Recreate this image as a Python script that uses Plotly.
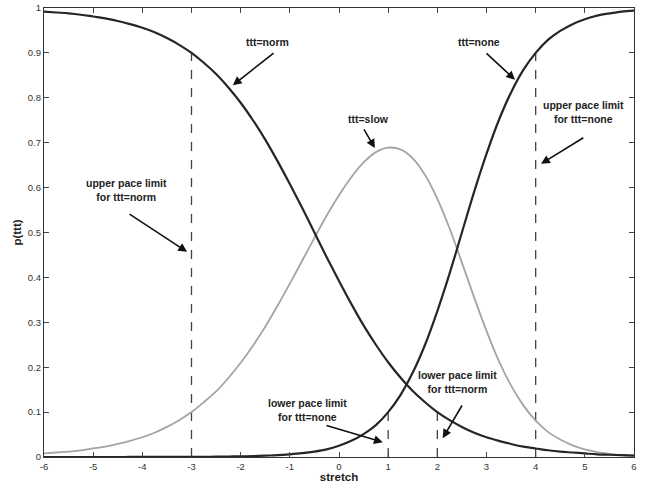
import plotly.graph_objects as go

# values at steps of 0.25 along the stretch axis
stretch = [-6, -5.75, -5.5, -5.25, -5, -4.75, -4.5, -4.25, -4, -3.75, -3.5, -3.25,
           -3, -2.75, -2.5, -2.25, -2, -1.75, -1.5, -1.25, -1, -0.75, -0.5, -0.25,
           0, 0.25, 0.5, 0.75, 1, 1.25, 1.5, 1.75, 2, 2.25, 2.5, 2.75,
           3, 3.25, 3.5, 3.75, 4, 4.25, 4.5, 4.75, 5, 5.25, 5.5, 5.75, 6]
p_norm = [0.992, 0.990, 0.988, 0.985, 0.981, 0.977, 0.971, 0.964, 0.956, 0.946, 0.933, 0.918,
          0.900, 0.878, 0.853, 0.823, 0.789, 0.750, 0.707, 0.659, 0.608, 0.555, 0.500, 0.445,
          0.392, 0.341, 0.293, 0.250, 0.211, 0.177, 0.147, 0.122, 0.100, 0.082, 0.067, 0.054,
          0.044, 0.036, 0.029, 0.023, 0.019, 0.015, 0.012, 0.010, 0.008, 0.006, 0.005, 0.004, 0.003]
p_slow = [0.008, 0.010, 0.012, 0.015, 0.019, 0.023, 0.029, 0.036, 0.044, 0.054, 0.067, 0.082,
          0.100, 0.122, 0.146, 0.176, 0.210, 0.248, 0.290, 0.337, 0.386, 0.437, 0.488, 0.538,
          0.583, 0.623, 0.656, 0.679, 0.689, 0.685, 0.665, 0.628, 0.575, 0.509, 0.433, 0.355,
          0.281, 0.214, 0.159, 0.115, 0.081, 0.056, 0.039, 0.026, 0.017, 0.011, 0.007, 0.004, 0.003]
p_none = [0.000, 0.000, 0.000, 0.000, 0.000, 0.000, 0.000, 0.0001, 0.0001, 0.0001, 0.0002, 0.0002,
          0.0003, 0.0005, 0.0007, 0.001, 0.0014, 0.002, 0.003, 0.004, 0.006, 0.0085, 0.012, 0.017,
          0.025, 0.036, 0.051, 0.071, 0.100, 0.138, 0.188, 0.250, 0.325, 0.409, 0.500, 0.591,
          0.675, 0.750, 0.812, 0.862, 0.900, 0.929, 0.949, 0.964, 0.975, 0.983, 0.988, 0.992, 0.994]

# pace limits: (stretch, height of dashed line)
limit_x = [-3, 4, 1, 2]
limit_top = [0.9, 0.9, 0.1, 0.1]

x_ticks = list(range(-6, 7))
x_tick_labels = [str(v) for v in x_ticks]
y_ticks = [0, 0.1, 0.2, 0.3, 0.4, 0.5, 0.6, 0.7, 0.8, 0.9, 1]
y_tick_labels = ["0", "0.1", "0.2", "0.3", "0.4", "0.5", "0.6", "0.7", "0.8", "0.9", "1"]

DARK = "#262626"
LIGHT = "#a4a4a4"
FONT = "Liberation Sans, Arial, sans-serif"

fig = go.Figure()

for lx, top in zip(limit_x, limit_top):
    fig.add_trace(go.Scatter(x=[lx, lx], y=[0, top], mode="lines",
                             line=dict(color="#444444", width=1.3, dash="dash"),
                             hoverinfo="skip"))

fig.add_trace(go.Scatter(x=stretch, y=p_slow, mode="lines", name="ttt=slow",
                         line=dict(color=LIGHT, width=1.8, shape="spline", smoothing=1)))
fig.add_trace(go.Scatter(x=stretch, y=p_norm, mode="lines", name="ttt=norm",
                         line=dict(color=DARK, width=2.2, shape="spline", smoothing=1)))
fig.add_trace(go.Scatter(x=stretch, y=p_none, mode="lines", name="ttt=none",
                         line=dict(color=DARK, width=2.2, shape="spline", smoothing=1)))

# labels (text at x, y) and arrows (head x, y  <- tail x, y)
labels = [
    ("ttt=norm", -1.46, 0.924),
    ("ttt=none", 2.85, 0.924),
    ("ttt=slow", 0.61, 0.753),
    ("upper pace limit<br>for ttt=none", 4.98, 0.768),
    ("upper pace limit<br>for ttt=norm", -4.33, 0.595),
    ("lower pace limit<br>for ttt=none", -0.65, 0.105),
    ("lower pace limit<br>for ttt=norm", 2.40, 0.167),
]
arrows = [
    (-2.16, 0.828, -1.30, 0.902),
    (3.58, 0.840, 2.97, 0.902),
    (0.73, 0.688, 0.49, 0.733),
    (4.11, 0.653, 5.00, 0.713),
    (-3.09, 0.457, -4.29, 0.543),
    (0.89, 0.033, -0.285, 0.071),
    (2.11, 0.042, 2.52, 0.118),
]
for text, tx, ty in labels:
    fig.add_annotation(x=tx, y=ty, text=f"<b>{text}</b>", showarrow=False,
                       font=dict(family=FONT, size=10.5, color="#222222"))
for hx, hy, sx, sy in arrows:
    fig.add_annotation(x=hx, y=hy, ax=sx, ay=sy, axref="x", ayref="y", text="",
                       showarrow=True, arrowhead=2, arrowsize=1.1, arrowwidth=1.6,
                       arrowcolor="#111111")

fig.update_layout(
    width=648, height=489,
    margin=dict(l=44, r=14, t=8, b=32),
    paper_bgcolor="white", plot_bgcolor="white",
    showlegend=False,
    font=dict(family=FONT, size=9.5, color="#333333"),
)
fig.update_xaxes(range=[-6, 6], tickvals=x_ticks, ticktext=x_tick_labels, ticks="inside", ticklen=5,
                 showline=True, linecolor="#333333", linewidth=1.2, mirror="ticks",
                 showgrid=False, zeroline=False, automargin=False,
                 title=dict(text="<b>stretch</b>", font=dict(size=11.5, color="#222222"), standoff=1))
fig.update_yaxes(range=[0, 1], tickvals=y_ticks, ticktext=y_tick_labels, ticks="inside", ticklen=5,
                 showline=True, linecolor="#333333", linewidth=1.2, mirror="ticks",
                 showgrid=False, zeroline=False, automargin=False,
                 title=dict(text="<b>p(ttt)</b>", font=dict(size=11.5, color="#222222"), standoff=3))

# page body has a default 8px margin; drop it so the figure fills the window
fig.write_html("out.html", config={"displayModeBar": False},
               post_script="document.body.style.margin='0';")
